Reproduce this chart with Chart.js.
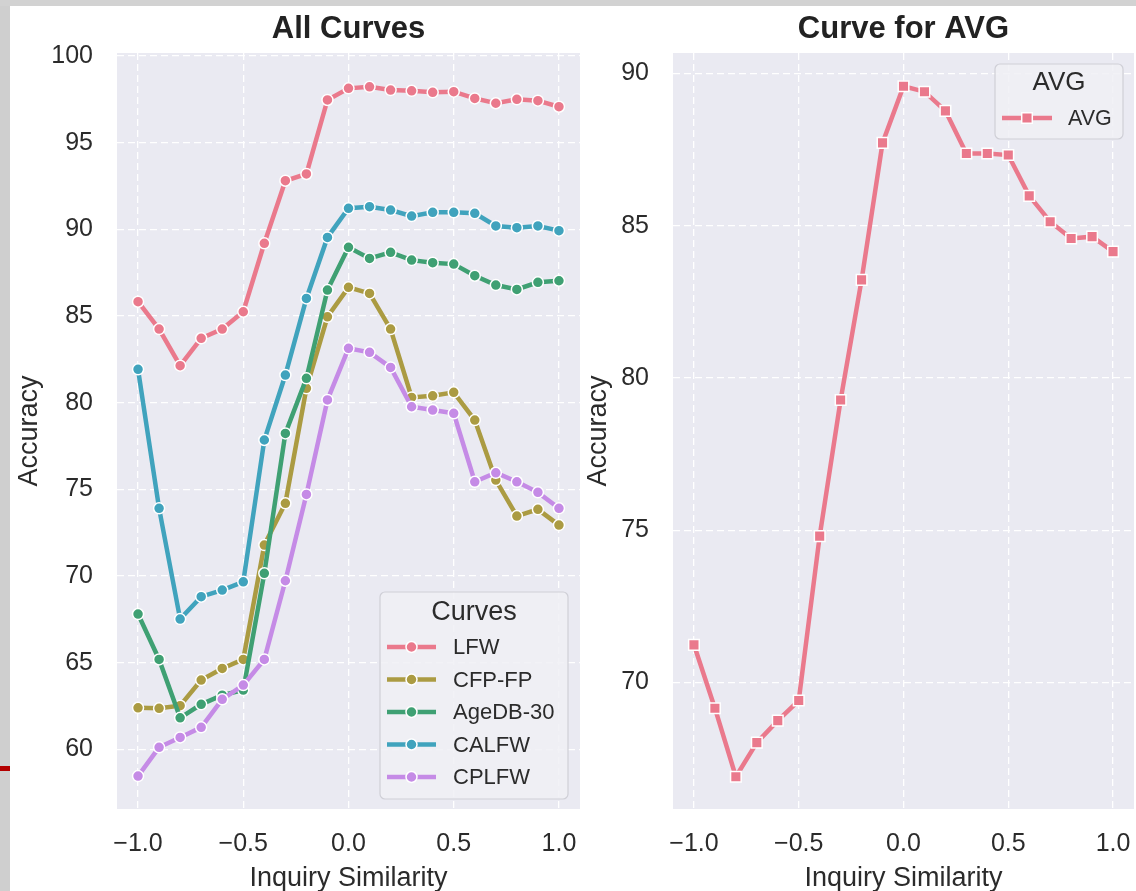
<!DOCTYPE html>
<html>
<head>
<meta charset="utf-8">
<script src="https://cdn.jsdelivr.net/npm/chart.js@4.4.1/dist/chart.umd.min.js"></script>
<style>
  html, body { margin: 0; padding: 0; background: #ffffff; width: 1136px; height: 891px; overflow: hidden; }
  #stripL { position: absolute; left: 0; top: 0; width: 10px; height: 891px; background: #cfcfcf; }
  #stripT { position: absolute; left: 0; top: 0; width: 1136px; height: 6px; background: #d2d2d2; }
  #redMark { position: absolute; left: 0; top: 766px; width: 10px; height: 5px; background: #b30000; }
  #wrapL { position: absolute; left: 0; top: 0; width: 587px; height: 891px; }
  #wrapR { position: absolute; left: 585px; top: 0; width: 558px; height: 891px; }
</style>
</head>
<body>
<div id="stripL"></div><div id="stripT"></div><div id="redMark"></div>
<div id="wrapL"><canvas id="cL"></canvas></div>
<div id="wrapR"><canvas id="cR"></canvas></div>
<script>
// ---------- data ----------
const similarity = [-1.0, -0.9, -0.8, -0.7, -0.6, -0.5, -0.4, -0.3, -0.2, -0.1, 0.0, 0.1, 0.2, 0.3, 0.4, 0.5, 0.6, 0.7, 0.8, 0.9, 1.0];
const seriesNames = ['LFW', 'CFP-FP', 'AgeDB-30', 'CALFW', 'CPLFW'];
const lfw    = [85.83, 84.25, 82.14, 83.72, 84.25, 85.25, 89.20, 92.81, 93.20, 97.47, 98.14, 98.23, 98.04, 98.00, 97.91, 97.95, 97.56, 97.28, 97.51, 97.43, 97.08];
const cfpfp  = [62.40, 62.37, 62.52, 64.00, 64.67, 65.19, 71.79, 74.20, 80.83, 84.96, 86.66, 86.31, 84.25, 80.31, 80.40, 80.60, 79.00, 75.54, 73.46, 73.85, 72.94];
const agedb  = [67.81, 65.19, 61.82, 62.60, 63.13, 63.42, 70.16, 78.23, 81.41, 86.50, 88.97, 88.33, 88.68, 88.23, 88.08, 88.00, 87.33, 86.79, 86.54, 86.95, 87.04];
const calfw  = [81.93, 73.91, 67.52, 68.81, 69.19, 69.67, 77.85, 81.60, 86.02, 89.54, 91.22, 91.31, 91.12, 90.77, 90.99, 90.99, 90.93, 90.20, 90.10, 90.20, 89.93];
const cplfw  = [58.46, 60.12, 60.69, 61.27, 62.89, 63.71, 65.19, 69.73, 74.71, 80.16, 83.14, 82.91, 82.04, 79.77, 79.58, 79.39, 75.44, 75.96, 75.44, 74.83, 73.91];
const avg    = [71.24, 69.16, 66.91, 68.03, 68.75, 69.41, 74.81, 79.28, 83.22, 87.72, 89.58, 89.40, 88.77, 87.37, 87.37, 87.32, 85.98, 85.13, 84.58, 84.64, 84.15];
const avgName = 'AVG';
const xTickValues = [-1.0, -0.5, 0.0, 0.5, 1.0];
const xTickLabels = ['\u22121.0', '\u22120.5', '0.0', '0.5', '1.0'];
const yTicksLeft  = [60, 65, 70, 75, 80, 85, 90, 95, 100];
const yTicksRight = [70, 75, 80, 85, 90];
const titleLeft = 'All Curves';
const titleRight = 'Curve for AVG';
const legendTitleLeft = 'Curves';
const legendTitleRight = 'AVG';
const xLabel = 'Inquiry Similarity';
const yLabel = 'Accuracy';

// ---------- style ----------
const colors = ['#ea798c', '#ab9b42', '#3fa073', '#40a3bd', '#c58be6'];
const FONT = '"Liberation Sans", Arial, Helvetica, sans-serif';
const TXT = '#2b2b2b';
const BG = '#eaeaf2';

const toPts = (vals) => vals.map((v, i) => ({ x: similarity[i], y: v }));

const bgPlugin = {
  id: 'plotBg',
  beforeDraw(chart) {
    const { ctx, chartArea: a } = chart;
    ctx.save();
    ctx.fillStyle = BG;
    ctx.fillRect(a.left, a.top, a.right - a.left, a.bottom - a.top);
    ctx.restore();
  }
};

function drawMarker(ctx, style, x, y, r, fill) {
  ctx.save();
  ctx.fillStyle = fill;
  ctx.strokeStyle = '#ffffff';
  ctx.lineWidth = 1.5;
  ctx.beginPath();
  if (style === 'rect') {
    const s = r * Math.SQRT1_2;
    ctx.rect(x - s, y - s, 2 * s, 2 * s);
  } else {
    ctx.arc(x, y, r, 0, Math.PI * 2);
  }
  ctx.fill();
  ctx.stroke();
  ctx.restore();
}

const boxLegendPlugin = {
  id: 'boxLegend',
  afterDatasetsDraw(chart, args, o) {
    if (!o || !o.display) return;
    const { ctx, chartArea: a } = chart;
    const w = o.width, h = o.height;
    const x0 = a.right - o.marginRight - w;
    const y0 = o.anchor === 'top' ? a.top + o.marginTop : a.bottom - o.marginBottom - h;
    ctx.save();
    ctx.beginPath();
    if (ctx.roundRect) ctx.roundRect(x0, y0, w, h, 5); else ctx.rect(x0, y0, w, h);
    ctx.fillStyle = 'rgba(240,240,245,0.85)';
    ctx.fill();
    ctx.strokeStyle = '#cfcfd6';
    ctx.lineWidth = 1.2;
    ctx.stroke();
    ctx.fillStyle = TXT;
    ctx.textAlign = 'center';
    ctx.textBaseline = 'middle';
    ctx.font = o.titleSize + 'px ' + FONT;
    ctx.fillText(o.title, x0 + w / 2, y0 + o.titleY);
    chart.data.datasets.forEach((ds, i) => {
      const ry = y0 + o.firstRowY + i * o.rowGap;
      const lx0 = x0 + o.lineX0, lx1 = x0 + o.lineX1;
      ctx.strokeStyle = ds.borderColor;
      ctx.lineWidth = 4.5;
      ctx.lineCap = 'butt';
      ctx.beginPath();
      ctx.moveTo(lx0, ry); ctx.lineTo(lx1, ry);
      ctx.stroke();
      drawMarker(ctx, ds.pointStyle, (lx0 + lx1) / 2, ry, ds.pointRadius, ds.backgroundColor);
      ctx.fillStyle = TXT;
      ctx.textAlign = 'left';
      ctx.font = o.labelSize + 'px ' + FONT;
      ctx.fillText(ds.label, x0 + o.textX, ry + 1);
    });
    ctx.restore();
  }
};

function makeOptions(cfg) {
  return {
    responsive: false,
    animation: false,
    devicePixelRatio: 1,
    layout: { padding: { left: 0, right: cfg.padRight, top: 0, bottom: 0 } },
    plugins: {
      legend: { display: false },
      tooltip: { enabled: false },
      title: {
        display: true, text: cfg.title, color: '#222222', fullSize: false,
        font: { family: FONT, size: 31, weight: 'bold', lineHeight: 1.0 },
        padding: { top: 14, bottom: 8 }
      },
      boxLegend: cfg.legend
    },
    scales: {
      x: {
        type: 'linear', min: -1.1, max: 1.1,
        afterBuildTicks: (s) => { s.ticks = xTickValues.map(v => ({ value: v })); },
        afterFit: (s) => { s.height = 82; s.paddingLeft = 0; s.paddingRight = 0; },
        ticks: {
          color: TXT, padding: 20,
          font: { family: FONT, size: 25 },
          callback: (v) => { const i = xTickValues.indexOf(v); return i >= 0 ? xTickLabels[i] : ''; }
        },
        grid: { color: '#ffffff', lineWidth: 1.3, drawTicks: false, tickBorderDash: [7, 4] },
        border: { display: false, dash: [7, 4] },
        title: {
          display: true, text: xLabel, color: TXT,
          font: { family: FONT, size: 27, lineHeight: 0.8 },
          padding: { top: 0, bottom: 1.2 }
        }
      },
      y: {
        type: 'linear', min: cfg.yMin, max: cfg.yMax,
        afterBuildTicks: (s) => { s.ticks = cfg.yTicks.map(v => ({ value: v })); },
        afterFit: (s) => { s.width = cfg.yWidth; s.paddingTop = 0; s.paddingBottom = 0; },
        ticks: {
          color: TXT, padding: 24,
          font: { family: FONT, size: 25 },
          callback: (v) => String(v)
        },
        grid: { color: '#ffffff', lineWidth: 1.3, drawTicks: false, tickBorderDash: [7, 4] },
        border: { display: false, dash: [7, 4] },
        title: {
          display: true, text: yLabel, color: TXT,
          font: { family: FONT, size: 27, lineHeight: 1.0 },
          padding: { top: cfg.yTitlePad, bottom: 0 }
        }
      }
    }
  };
}

function lineDs(label, vals, color, order, style, radius) {
  return {
    label, data: toPts(vals), order,
    borderColor: color, backgroundColor: color,
    borderWidth: 4.5, tension: 0,
    pointStyle: style, pointRadius: radius,
    pointBorderColor: '#ffffff', pointBorderWidth: 1.5,
    pointHoverRadius: radius
  };
}

const cL = document.getElementById('cL');
cL.width = 587; cL.height = 891;
new Chart(cL, {
  type: 'line',
  data: {
    datasets: [
      lineDs(seriesNames[0], lfw,   colors[0], 5, 'circle', 5.5),
      lineDs(seriesNames[1], cfpfp, colors[1], 4, 'circle', 5.5),
      lineDs(seriesNames[2], agedb, colors[2], 3, 'circle', 5.5),
      lineDs(seriesNames[3], calfw, colors[3], 2, 'circle', 5.5),
      lineDs(seriesNames[4], cplfw, colors[4], 1, 'circle', 5.5)
    ]
  },
  options: makeOptions({
    title: titleLeft, padRight: 5, yMin: 56.56, yMax: 100.18, yTicks: yTicksLeft,
    yWidth: 117, yTitlePad: 16.5,
    legend: {
      display: true, title: legendTitleLeft, anchor: 'bottom',
      width: 188, height: 207, marginRight: 12, marginBottom: 10,
      titleSize: 27, labelSize: 22, titleY: 21, firstRowY: 55, rowGap: 32.5,
      lineX0: 7, lineX1: 56, textX: 73
    }
  }),
  plugins: [bgPlugin, boxLegendPlugin]
});

const cR = document.getElementById('cR');
cR.width = 558; cR.height = 891;
new Chart(cR, {
  type: 'line',
  data: {
    datasets: [ lineDs(avgName, avg, colors[0], 1, 'rect', 7.5) ]
  },
  options: makeOptions({
    title: titleRight, padRight: 2, yMin: 65.85, yMax: 90.67, yTicks: yTicksRight,
    yWidth: 88, yTitlePad: 0.5,
    legend: {
      display: true, title: legendTitleRight, anchor: 'top',
      width: 128, height: 75, marginRight: 11, marginTop: 11,
      titleSize: 26, labelSize: 21.5, titleY: 19, firstRowY: 54, rowGap: 32,
      lineX0: 7, lineX1: 57, textX: 73
    }
  }),
  plugins: [bgPlugin, boxLegendPlugin]
});
</script>
</body>
</html>
